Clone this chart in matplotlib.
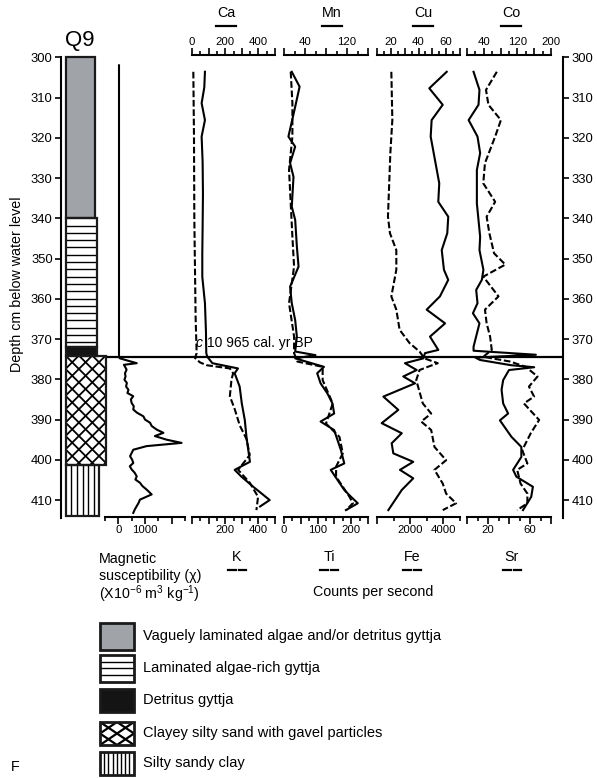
import numpy as np
import matplotlib
matplotlib.use("Agg")
import matplotlib.pyplot as plt
from matplotlib.patches import Rectangle
from matplotlib.collections import LineCollection
from matplotlib.ticker import FixedLocator, FuncFormatter

plt.rcParams['font.family'] = ['Liberation Sans', 'DejaVu Sans']
plt.rcParams['mathtext.fontset'] = 'custom'
plt.rcParams['mathtext.rm'] = 'Liberation Sans'
plt.rcParams['mathtext.it'] = 'Liberation Sans:italic'

# ---------------- core Q9: lithology (cm below water level) ----------------
LITH_LABELS = ["Vaguely laminated algae and/or detritus gyttja",
               "Laminated algae-rich gyttja",
               "Detritus gyttja",
               "Clayey silty sand with gavel particles",
               "Silty sandy clay"]
LITH_TOP = [300.0, 340.0, 372.0, 374.1, 401.2]
LITH_BASE = [340.0, 372.0, 374.1, 401.2, 414.0]

EVENT_DEPTH = 374.4
EVENT_AGE = "10 965 cal. yr BP"

# ---------------- magnetic susceptibility ----------------
MS_DEPTH = [302.0, 374.5, 374.8, 376.0, 376.4, 377.6, 378.5, 379.3, 380.1, 380.9,
            381.8, 382.6, 383.4, 384.2, 385.0, 385.9, 386.7, 387.5, 388.3, 389.2,
            390.0, 390.8, 391.6, 392.5, 393.3, 394.1, 395.0, 395.8, 396.6, 397.5,
            398.3, 399.1, 400.0, 400.8, 401.6, 402.4, 403.2, 404.1, 404.9, 405.7,
            406.5, 407.4, 408.6, 409.9, 410.7, 411.5, 412.3, 413.2]
MS_VALUE = [25, 25, 60, 690, 210, 310, 250, 270, 230, 320,
            290, 380, 340, 560, 470, 500, 580, 560, 700, 940,
            1000, 1190, 1250, 1440, 1690, 1370, 1810, 2370, 1060, 560,
            500, 440, 520, 560, 430, 500, 610, 690, 640, 810,
            900, 1060, 1250, 810, 760, 690, 620, 560]

# ---------------- XRF counts per second ----------------
CA_DEPTH = [303.6, 307.5, 311.4, 315.6, 319.7, 326.0, 334.0, 342.0, 348.7, 354.5,
            361.1, 368.0, 373.5, 374.4, 376.0, 377.3, 378.5, 381.8, 386.0, 390.1,
            394.3, 400.5, 402.5, 404.2, 406.7, 410.0, 411.6]
CA = [78, 74, 58, 78, 58, 64, 66, 64, 62, 62,
      78, 84, 86, 92, 123, 277, 257, 287, 300, 318,
      328, 349, 257, 298, 369, 468, 410]

K_DEPTH = [303.6, 320.0, 340.0, 352.8, 365.0, 373.5, 374.7, 375.8, 376.5, 377.3,
           378.5, 380.0, 384.2, 387.5, 391.5, 394.8, 398.8, 402.5, 405.7, 409.2, 412.5]
K = [8, 12, 14, 18, 22, 28, 18, 48, 88, 228,
     248, 238, 228, 258, 288, 328, 348, 278, 348, 398, 388]

MN_DEPTH = [303.6, 307.3, 312.3, 319.7, 322.2, 326.3, 329.7, 337.1, 340.4, 347.0,
            352.0, 357.0, 361.1, 365.3, 369.4, 373.1, 374.0, 374.8, 376.9, 378.5,
            381.0, 383.5, 386.0, 388.5, 390.5, 392.6, 397.6, 400.9, 402.5, 405.0,
            407.5, 409.2, 410.8, 412.5]
MN = [14.8, 29.7, 21.3, 8.4, 21.3, 11.6, 18.1, 14.8, 21.3, 24.5,
      27.7, 11.6, 14.8, 21.3, 24.5, 21.3, 60.0, 21.3, 76.1, 63.2,
      69.7, 82.6, 92.3, 95.5, 69.7, 95.5, 108.4, 114.8, 89.0, 101.9,
      114.8, 127.7, 140.6, 118.0]

TI_DEPTH = [303.6, 311.4, 319.7, 328.0, 336.3, 344.6, 352.0, 361.1, 369.4, 373.5,
            375.6, 376.9, 380.2, 386.0, 391.0, 394.3, 398.4, 401.7, 404.2, 409.2,
            410.8, 412.5]
TI = [20, 25, 25, 15, 20, 25, 30, 15, 30, 30,
      40, 115, 115, 145, 125, 165, 175, 155, 155, 195,
      205, 185]

CU_DEPTH = [303.6, 307.7, 311.8, 315.6, 319.7, 325.5, 331.3, 335.9, 339.6, 343.7,
            347.9, 352.8, 355.3, 359.4, 362.7, 366.1, 369.4, 372.7, 373.5, 374.8,
            376.0, 377.7, 379.3, 381.0, 384.3, 387.6, 390.9, 393.4, 395.9, 398.4,
            400.5, 402.5, 404.6, 407.5, 412.5]
CU = [60.4, 47.8, 57.5, 49.5, 48.8, 51.9, 55.0, 54.3, 61.5, 60.8,
      56.8, 58.4, 61.5, 55.5, 45.9, 59.2, 48.3, 54.3, 44.7, 43.5,
      30.2, 38.7, 29.0, 37.5, 14.6, 25.4, 13.4, 27.9, 20.6, 21.8,
      36.2, 26.6, 36.2, 27.9, 18.2]

FE_DEPTH = [303.6, 315.6, 323.8, 339.6, 343.7, 347.9, 352.8, 359.4, 362.7, 367.7,
            371.0, 373.1, 374.8, 376.0, 376.9, 377.7, 380.2, 386.0, 388.5, 390.5,
            392.6, 396.8, 400.1, 402.5, 405.9, 408.4, 410.8, 412.5]
FE = [864, 924, 804, 660, 780, 1164, 1164, 864, 1164, 1362,
      1962, 2562, 2862, 3660, 3060, 2562, 2364, 2760, 3264, 2664,
      3264, 3462, 4164, 3462, 3960, 4164, 4764, 3960]

CO_DEPTH = [303.6, 308.1, 311.8, 315.6, 319.7, 323.8, 328.0, 336.3, 344.6, 347.9,
            352.8, 355.3, 357.8, 361.1, 363.6, 366.1, 371.9, 372.9, 373.9, 374.6,
            375.2, 376.5, 377.0, 377.7, 380.2, 382.6, 386.0, 388.5, 390.2, 394.3,
            396.8, 399.3, 402.5, 404.2, 406.7, 409.2, 412.5]
CO = [15.6, 29.7, 27.4, 3.9, 25.0, 31.3, 23.5, 23.5, 31.3, 29.7,
      39.1, 35.3, 21.9, 25.0, 14.1, 29.7, 15.6, 15.6, 164.0, 20.0,
      31.0, 105.0, 160.0, 100.0, 86.1, 82.3, 86.1, 97.9, 78.4, 105.9,
      129.4, 129.4, 109.8, 117.6, 156.9, 152.9, 133.3]

SR_DEPTH = [303.6, 308.1, 311.8, 315.6, 319.7, 326.3, 331.3, 335.9, 339.6, 343.7,
            348.7, 351.5, 354.5, 359.4, 362.7, 366.1, 369.4, 372.7, 374.4, 375.6,
            376.9, 379.3, 381.8, 384.3, 386.0, 390.1, 393.4, 397.6, 400.9, 402.5,
            405.9, 408.4, 410.8, 412.5]
SR = [28.4, 18.1, 20.4, 32.3, 26.8, 17.1, 15.5, 26.8, 18.7, 21.3,
      25.8, 36.5, 15.5, 30.0, 17.1, 18.7, 22.0, 23.6, 15.5, 41.3,
      55.8, 67.2, 59.0, 63.9, 54.2, 68.7, 60.7, 52.6, 57.5, 47.8,
      51.0, 57.5, 57.5, 47.8]

# ---------------- figure geometry (pixels) ----------------
W, H = 597, 778
PX_PER_CM = 4.025
Y300 = 57.3
fig = plt.figure(figsize=(W / 100, H / 100), dpi=100)


def ypx(d):
    return Y300 + (d - 300) * PX_PER_CM


def px_axes(x0, y0, x1, y1):
    ax = fig.add_axes([x0 / W, 1 - y1 / H, (x1 - x0) / W, (y1 - y0) / H])
    ax.patch.set_visible(False)
    return ax


LW = 1.5
DASH = (0, (3.2, 1.3))
TICK_FS = 8.2
LABEL_FS = 10.3


def label_formatter(labels):
    def f(v, pos):
        for lab in labels:
            if abs(v - lab) < 1e-6:
                return f"{lab:g}"
        return ""
    return FuncFormatter(f)


def style_x(ax, side, lim, minor, major, labels):
    ax.set_xlim(*lim)
    start = np.ceil(lim[0] / major) * major
    ax.xaxis.set_major_locator(FixedLocator(np.arange(start, lim[1] + 1e-9, major)))
    ax.xaxis.set_minor_locator(FixedLocator(np.arange(lim[0], lim[1] + 1e-9, minor)))
    ax.xaxis.set_major_formatter(label_formatter(labels))
    ax.xaxis.set_ticks_position(side)
    ax.xaxis.set_label_position(side)
    for s in ax.spines:
        ax.spines[s].set_visible(s == side)
    ax.spines[side].set_linewidth(LW)
    on_top = side == 'top'
    ax.tick_params(axis='x', which='both', direction='out', width=1.2,
                   labelsize=TICK_FS, pad=1.0, top=on_top, bottom=not on_top,
                   labeltop=on_top, labelbottom=not on_top)
    ax.tick_params(axis='x', which='major', length=5)
    ax.tick_params(axis='x', which='minor', length=2.8)
    ax.tick_params(axis='y', left=False, right=False, labelleft=False, labelright=False)


D_TOP, D_BOT = 299.55, 414.1

# element panels: (x range px, top element, bottom element)
PANELS = [
    ((192, 275), (CA, CA_DEPTH, (0, 500), 50, 100, [0, 200, 400]),
                 (K, K_DEPTH, (0, 500), 50, 100, [200, 400])),
    ((284, 368), (MN, MN_DEPTH, (0, 160), 20, 40, [40, 120]),
                 (TI, TI_DEPTH, (0, 250), 25, 50, [0, 100, 200])),
    ((377, 460), (CU, CU_DEPTH, (10, 70), 5, 10, [20, 40, 60]),
                 (FE, FE_DEPTH, (0, 5000), 1000, 2000, [2000, 4000])),
    ((467, 551), (CO, CO_DEPTH, (0, 200), 20, 40, [40, 120, 200]),
                 (SR, SR_DEPTH, (0, 80), 10, 20, [20, 60])),
]

for (x0, x1), top, bot in PANELS:
    ax = px_axes(x0, ypx(D_TOP), x1, ypx(D_BOT))
    ax.set_ylim(D_BOT, D_TOP)
    axb = ax.twiny()
    axb.patch.set_visible(False)
    style_x(ax, 'top', *top[2:])
    style_x(axb, 'bottom', *bot[2:])
    ax.plot(top[0], top[1], color='k', lw=LW, clip_on=False)
    axb.plot(bot[0], bot[1], color='k', lw=LW, ls=DASH, clip_on=False)

# magnetic susceptibility panel
axm = px_axes(105, ypx(D_TOP), 185, ypx(D_BOT))
axm.set_ylim(D_BOT, D_TOP)
style_x(axm, 'bottom', (-500, 2500), 500, 1000, [0, 1000])
axm.plot(MS_VALUE, MS_DEPTH, color='k', lw=LW, clip_on=False)

# depth axes, left and right
D_AX_BOT = 414.5
for xpos, side in ((61, 'left'), (563, 'right')):
    axd = px_axes(xpos, ypx(300), xpos + 0.01, ypx(D_AX_BOT))
    axd.set_ylim(D_AX_BOT, 300)
    axd.set_yticks(np.arange(300, 411, 10))
    axd.set_xticks([])
    axd.yaxis.set_ticks_position(side)
    for s in axd.spines:
        axd.spines[s].set_visible(s == side)
    axd.spines[side].set_linewidth(LW)
    axd.tick_params(axis='y', direction='out', length=4.5, width=1.2,
                    labelsize=9.4, pad=1.5)


def pattern(ax, x, y, w, h, kind, period, sx, sy, clip, lw=1.0, z=2):
    """Line fill of a rectangle; period given in pixels, sx/sy = px per data unit."""
    segs = []
    if kind == 'h':
        for v in np.arange(y * sy + period, (y + h) * sy - 0.8, period):
            segs.append([(x, v / sy), (x + w, v / sy)])
    elif kind == 'v':
        for u in np.arange(x * sx + period, (x + w) * sx - 0.8, period):
            segs.append([(u / sx, y), (u / sx, y + h)])
    elif kind == 'x':
        pw, ph = period
        na = int(w * sx / pw) + 2
        nb = int(h * sy / ph) + 2
        for k in range(-na - nb - 2, na + nb + 3):
            for sgn in (1, -1):
                a = np.array([-nb - 2.0, na + nb + 2.0])
                b = sgn * (k - a)
                segs.append(list(zip((x * sx + a * pw) / sx, (y * sy + b * ph) / sy)))
    lc = LineCollection(segs, colors='k', linewidths=lw, zorder=z)
    ax.add_collection(lc)
    lc.set_clip_path(clip)


# lithology column
LITH_STYLE = [dict(fc='#a0a4a9', kind=None, w=29.5),
              dict(fc='white', kind='h', w=31.5, per=7.3),
              dict(fc='#141414', kind=None, w=31.5),
              dict(fc='white', kind='x', w=40.5, per=(13.4, 13.4)),
              dict(fc='white', kind='v', w=33.5, per=5.7)]
axl = px_axes(65.5, ypx(300), 107.5, ypx(D_AX_BOT))
axl.set_ylim(D_AX_BOT, 300)
axl.set_xlim(0, 42)
axl.axis('off')
for t, b, st in zip(LITH_TOP, LITH_BASE, LITH_STYLE):
    r = Rectangle((0, t), st['w'], b - t, fc=st['fc'], ec='none', zorder=1)
    axl.add_patch(r)
    if st['kind']:
        pattern(axl, 0, t, st['w'], b - t, st['kind'], st['per'], 1.0, PX_PER_CM, r,
                lw=1.0 if st['kind'] != 'x' else 1.3)
    axl.add_patch(Rectangle((0, t), st['w'], b - t, fc='none', ec='#1a1a1a',
                            lw=1.6, zorder=3, clip_on=False))

# event horizon
axe = px_axes(107, ypx(300), 563, ypx(D_AX_BOT))
axe.set_ylim(D_AX_BOT, 300)
axe.axis('off')
axe.axhline(EVENT_DEPTH, color='k', lw=1.6)

# ---------------- overlay for text and legend (pixel coordinates) ----------------
ov = fig.add_axes([0, 0, 1, 1])
ov.set_xlim(0, W)
ov.set_ylim(H, 0)
ov.axis('off')
ov.patch.set_visible(False)

ov.text(80, 40, "Q9", fontsize=16, ha='center', va='center')
ov.text(17, 284, "Depth cm below water level", fontsize=LABEL_FS, rotation=90,
        ha='center', va='center')
ov.text(196, 343, "c", fontsize=10, style='italic', ha='left', va='center')
ov.text(207, 343, EVENT_AGE, fontsize=10, ha='left', va='center')

TOP_NAMES = [("Ca", 226), ("Mn", 332), ("Cu", 423), ("Co", 511)]
BOT_NAMES = [("K", 237), ("Ti", 329), ("Fe", 412), ("Sr", 512)]
for name, xc in TOP_NAMES:
    ov.text(xc, 13, name, fontsize=LABEL_FS, ha='center', va='center')
    ov.plot([xc - 10, xc + 10], [26, 26], color='k', lw=1.6)
for name, xc in BOT_NAMES:
    ov.text(xc, 557, name, fontsize=LABEL_FS, ha='center', va='center')
    ov.plot([xc - 9, xc - 1.5], [570, 570], color='k', lw=1.6)
    ov.plot([xc + 1.5, xc + 9], [570, 570], color='k', lw=1.6)

ov.text(99, 559, "Magnetic", fontsize=LABEL_FS, ha='left', va='center')
ov.text(99, 576, "susceptibility (\u03c7)", fontsize=LABEL_FS, ha='left', va='center')
ov.text(99, 594, r"(X10$^{-6}$ m$^{3}$ kg$^{-1}$)", fontsize=LABEL_FS, ha='left', va='center')
ov.text(373, 592, "Counts per second", fontsize=LABEL_FS, ha='center', va='center')

LEG_BOX = [(623, 26.5), (655, 26.5), (689, 22.5), (722, 23), (752, 23)]
LEG_STYLE = [dict(fc='#a0a4a9', kind=None),
             dict(fc='white', kind='h', per=6.7),
             dict(fc='#141414', kind=None),
             dict(fc='white', kind='x', per=(17, 11.5)),
             dict(fc='white', kind='v', per=4.2)]
for (y0, hh), st, lab in zip(LEG_BOX, LEG_STYLE, LITH_LABELS):
    r = Rectangle((100, y0), 34, hh, fc=st['fc'], ec='none', zorder=1)
    ov.add_patch(r)
    if st['kind']:
        pattern(ov, 100, y0, 34, hh, st['kind'], st['per'], 1.0, 1.0, r,
                lw=1.0 if st['kind'] != 'x' else 1.6)
    ov.add_patch(Rectangle((100, y0), 34, hh, fc='none', ec='#1a1a1a', lw=2.0, zorder=3))
    ov.text(143, y0 + hh / 2, lab, fontsize=10.5, ha='left', va='center')

ov.text(15, 767, "F", fontsize=LABEL_FS, ha='center', va='center')

fig.savefig("out.png", dpi=100)
